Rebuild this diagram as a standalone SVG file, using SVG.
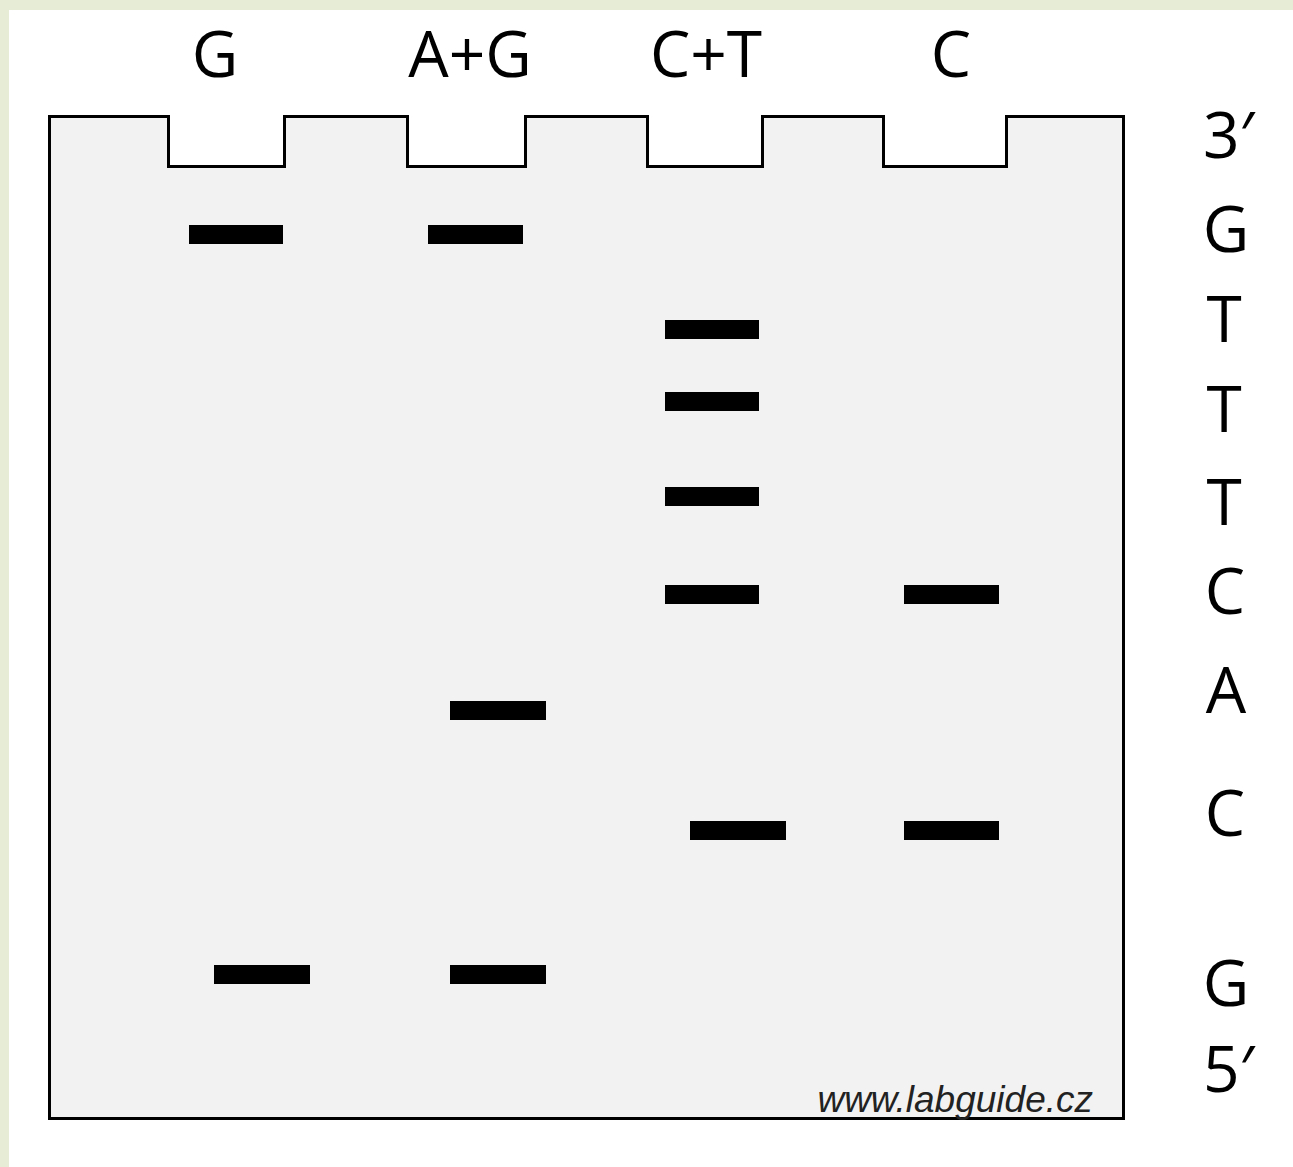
<svg xmlns="http://www.w3.org/2000/svg" width="1293" height="1167" viewBox="0 0 1293 1167">
  <style>
    .lbl { font-family: "Open Sans", "DejaVu Sans", sans-serif; font-size: 64px; fill: #000; }
    .band { fill: #000; }
    .wm { font-family: "Liberation Sans", Arial, sans-serif; font-style: italic; font-size: 37px; fill: #222; }
  </style>
  <rect x="0" y="0" width="1293" height="1167" fill="#e6ecd6"/>
  <rect x="9" y="10" width="1284" height="1157" fill="#ffffff"/>
  <g id="gel">
    <path d="M49.5 116.5 H168.5 V166.5 H284.5 V116.5 H407.5 V166.5 H525.5 V116.5 H647.5 V166.5 H762.5 V116.5 H883.5 V166.5 H1006.5 V116.5 H1123.5 V1118.5 H49.5 Z" fill="#f2f2f2" stroke="#000" stroke-width="3"/>
  </g>
  <g id="lane-labels">
    <text class="lbl" x="215" y="77" text-anchor="middle">G</text>
    <text class="lbl" x="470" y="77" text-anchor="middle">A+G</text>
    <text class="lbl" x="706" y="77" text-anchor="middle">C+T</text>
    <text class="lbl" x="951" y="77" text-anchor="middle">C</text>
  </g>
  <g id="bands">
    <rect class="band" x="189" y="225" width="94" height="19"/>
    <rect class="band" x="428" y="225" width="95" height="19"/>
    <rect class="band" x="665" y="320" width="94" height="19"/>
    <rect class="band" x="665" y="392" width="94" height="19"/>
    <rect class="band" x="665" y="487" width="94" height="19"/>
    <rect class="band" x="665" y="585" width="94" height="19"/>
    <rect class="band" x="904" y="585" width="95" height="19"/>
    <rect class="band" x="450" y="701" width="96" height="19"/>
    <rect class="band" x="690" y="821" width="96" height="19"/>
    <rect class="band" x="904" y="821" width="95" height="19"/>
    <rect class="band" x="214" y="965" width="96" height="19"/>
    <rect class="band" x="450" y="965" width="96" height="19"/>
  </g>
  <g id="sequence">
    <text class="lbl" x="1203" y="158">3′</text>
    <text class="lbl" x="1226" y="252" text-anchor="middle">G</text>
    <text class="lbl" x="1224" y="342" text-anchor="middle">T</text>
    <text class="lbl" x="1224" y="432" text-anchor="middle">T</text>
    <text class="lbl" x="1224" y="525" text-anchor="middle">T</text>
    <text class="lbl" x="1225" y="614" text-anchor="middle">C</text>
    <text class="lbl" x="1226" y="713" text-anchor="middle">A</text>
    <text class="lbl" x="1225" y="836" text-anchor="middle">C</text>
    <text class="lbl" x="1226" y="1006" text-anchor="middle">G</text>
    <text class="lbl" x="1203" y="1092">5′</text>
  </g>
  <text class="wm" x="1093" y="1112" text-anchor="end">www.labguide.cz</text>
</svg>
